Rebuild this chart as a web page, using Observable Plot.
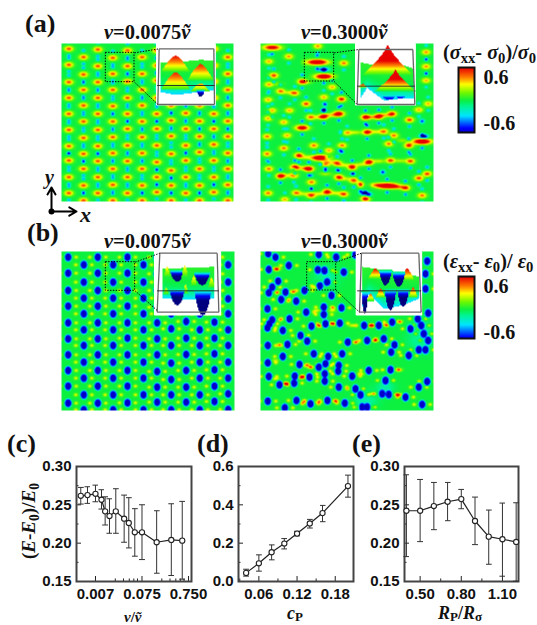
<!DOCTYPE html>
<html><head><meta charset="utf-8">
<script src="https://cdn.jsdelivr.net/npm/d3@7"></script>
<script src="https://cdn.jsdelivr.net/npm/@observablehq/plot@0.6"></script>
<style>
html,body{margin:0;padding:0;background:#fff}
#page{position:relative;width:537px;height:625px;overflow:hidden}
#page svg{position:absolute;overflow:visible;background:transparent}
.lab{position:absolute;white-space:nowrap;font-family:"Liberation Serif",serif;font-weight:bold;color:#111;line-height:1}
.lab sub{font-size:.72em;vertical-align:baseline;position:relative;top:.28em;line-height:0}
.lab sub.low{top:.16em}
</style></head><body><div id="page"></div>
<script>
// ---------- colour scale of the two maps ----------
const colorStops=[-1,-0.72,-0.4,-0.14,0,0.2,0.42,0.6,0.85];
const colorRange=["#00007f","#0000ff","#00e5ff","#00f58c","#0cf040","#70f800","#ffff00","#ff8000","#e80000"];
const barLabels=[-0.6,0.6];

// ---------- panel (c) ----------
const cX=[0.00362,0.00505,0.0075,0.0101,0.0121,0.015,0.0205,0.031,0.039,0.0525,0.075,0.155,0.32,0.55];
const cY=[.2618,.2627,.2644,.2566,.2415,.2354,.2415,.2319,.2263,.2142,.2142,.2012,.2042,.2033];
const cHi=[.2727,.2736,.2757,.2697,.2605,.2579,.2710,.2627,.2593,.2450,.2501,.2423,.2514,.2545];
const cLo=[.2510,.2519,.2540,.2445,.2237,.2129,.2129,.2012,.1938,.1830,.1786,.1608,.1578,.1530];
// ---------- panel (d) ----------
const dX=[.04,.06,.08,.10,.12,.14,.16,.20];
const dY=[.045,.095,.153,.198,.25,.303,.357,.498];
const dHi=[.064,.139,.191,.224,.262,.324,.397,.555];
const dLo=[.028,.054,.113,.17,.238,.279,.312,.44];
// ---------- panel (e) ----------
const eX=[.4,.5,.6,.7,.8,.9,1.0,1.1,1.2];
const eY=[.2423,.2423,.2484,.2540,.2575,.2289,.2085,.2051,.2016];
const eHi=[.2892,.2831,.2792,.2792,.2701,.2601,.2432,.2523,.2527];
const eLo=[.1825,.2020,.2176,.2293,.2449,.1981,.1725,.1569,.1504];

// ---------- map (a) left: spot columns, read in crop coordinates ----------
const a1Cols=[205,249,292,337,381,425,469,512,556,597,640,682];
const a1Rows=[
[145,193,245,292,340,388,437,480,530,578],[170,222,268,315,363,412,460,505,555,600],
[147,197,245,292,340,388,437,482,530,578],[172,220,268,317,363,410,458,505,553,600],
[150,197,243,292,340,385,435,482,530,578],[170,220,268,315,363,410,458,505,555,600],
[150,195,240,292,340,385,435,485,530,575],[170,218,268,315,360,407,460,510,555,600],
[145,195,242,292,338,385,435,480,530,578],[168,218,268,315,362,408,455,505,555,600],
[145,195,243,292,340,385,432,480,530,575],[170,220,268,315,362,408,458,505,553,600]];
// ---------- map (b) left ----------
const b1Cols=[203,250,292,338,381,429,470,512,557,598,642,683];
const b1Rows=[
[140,188,240,287,337,385,433,480,527,578],[163,215,263,310,358,405,455,503,553,598],
[140,188,240,287,337,385,433,480,527,578],[163,215,263,310,358,405,455,503,553,598],
[140,188,240,287,337,383,433,480,527,577],[163,215,263,310,358,405,455,503,553,598],
[140,190,240,290,337,385,433,483,530,575],[165,215,265,310,355,405,458,507,553,598],
[140,190,240,287,333,383,432,480,530,575],[165,215,262,310,358,405,455,503,553,598],
[140,190,240,287,335,383,430,478,527,573],[163,215,265,310,358,405,455,503,550,597]];
// ---------- map (a) right: x, y, strength, width ----------
const a2Spots=[[50,141,1,2],[187,137,.6,1],[100,168,.6,1],[265,188,.65,1],[40,183,.55,1],[512,155,.6,1],[512,198,.6,1],[512,240,.55,1],[185,185,1.25,2.4],[205,228,1.25,2],[140,243,.8,1],[40,252,.55,1],[55,225,.75,1],[75,272,.65,1],[118,278,.65,1],[230,260,.55,1],[38,298,.55,1],[152,310,.75,1],[258,296,.85,1],[205,290,.55,1],[102,330,.55,1],[50,330,.55,1],[205,348,.9,1],[250,340,1.05,1.2],[165,350,.65,1],[38,354,.55,1],[85,365,.55,1],[330,350,.95,1],[370,348,.95,1],[410,340,.85,1],[462,358,.75,1],[518,310,.55,1],[490,328,.55,1],[140,382,1.05,1.5],[35,408,.65,1],[95,405,.55,1],[275,397,.55,1],[335,395,.95,1],[385,393,.65,1],[415,405,.65,1],[400,430,.65,1],[460,435,.85,1],[500,423,1.35,2],[85,443,.65,1],[35,460,.65,1],[175,435,.65,1],[260,435,.65,1],[220,450,.55,1],[130,465,.85,1],[195,472,1.35,2],[40,505,.65,1],[118,500,.95,1],[160,505,1.05,1.1],[75,527,.95,1],[115,525,.65,1],[210,492,.55,1],[245,488,.75,1],[290,500,.95,1],[340,485,1.05,1],[405,480,.75,1],[465,482,.75,1],[250,530,.85,1],[168,545,.65,1],[295,540,.75,1],[315,552,.85,.7],[395,556,1.35,2.4],[450,562,.85,1],[490,533,.75,1],[515,520,.75,1],[38,578,.65,1],[122,577,.65,1],[167,585,.75,1],[215,574,.95,1],[265,581,.75,1],[330,595,.95,1],[88,597,.55,1],[500,585,.65,1]];
const a2Wells=[[205,207,-.9,1.6],[205,330,-1,.8],[505,408,-1.1,1.3],[325,578,-.9,1.2],[340,582,-.8,1],[382,515,-.75,.8],[255,450,-.7,.8],[500,362,-.7,.8],[210,505,-.8,.7],[210,312,-.6,.6],[255,395,-.5,.6]];
const a2Bridges=[[190,350,.36],[228,344,.38],[350,350,.42],[390,344,.4],[300,396,.34],[360,394,.36],[90,525,.3],[140,503,.36],[150,470,.3],[220,485,.34],[265,494,.36],[315,492,.34],[370,482,.34],[435,481,.3],[360,553,.36],[425,560,.36],[145,580,.3],[190,580,.36],[240,578,.36],[100,276,.3],[65,250,.24],[150,245,.3],[270,535,.3],[210,520,.3],[440,420,.24]];
// ---------- map (b) right ----------
const b2Dots=[[38,130],[60,140],[190,132],[242,140],[300,133],[100,165],[40,177],[187,178],[207,180],[265,185],[515,152],[510,190],[68,212],[50,230],[40,247],[193,226],[215,215],[147,240],[90,245],[510,235],[228,255],[77,267],[122,272],[36,295],[152,305],[205,290],[205,312],[258,292],[50,328],[42,340],[36,352],[102,325],[82,360],[168,347],[210,340],[253,338],[326,345],[370,345],[410,335],[465,355],[518,308],[487,325],[497,345],[505,370],[518,390],[135,375],[155,392],[37,405],[96,402],[277,395],[335,390],[385,385],[417,403],[407,425],[490,418],[510,418],[460,435],[82,438],[37,457],[175,430],[260,430],[250,465],[218,438],[210,460],[190,470],[132,462],[208,490],[208,512],[248,482],[340,480],[405,478],[290,497],[40,498],[118,497],[116,518],[162,500],[72,523],[490,530],[515,513],[390,510],[250,530],[300,535],[315,553],[380,550],[400,552],[450,560],[165,580],[37,572],[123,570],[216,570],[268,578],[335,590],[320,590],[88,592],[500,582]];
const b2Ridges=[[60,175,.38],[110,243,.42],[180,230,.42],[185,300,.34],[230,300,.36],[190,345,.42],[230,340,.48],[290,345,.36],[348,345,.65],[390,343,.48],[430,333,.42],[300,395,.38],[360,390,.42],[140,500,.65],[90,520,.65],[150,465,.42],[165,470,.38],[315,490,.42],[430,478,.42],[350,550,.42],[430,553,.7],[145,575,.42],[190,575,.42],[240,572,.42],[75,405,.36],[60,450,.3],[60,505,.36],[65,175,.36]];
const b2Shade=[[215,200,-.18,2.5],[330,570,-.2,2.5],[390,530,-.2,1.8],[490,395,-.16,2.5],[500,350,-.14,2.5]];

// ---------- insets: sheet [x,top,bottom], cones [tipX,tipY,halfWidth,baseY,peak] ----------
const a1Sheet=[[480,185,275],[520,188,282],[560,182,280],[600,178,272],[640,180,270]];
const a1Cones=[[525,165,44,215,.85],[600,190,40,240,.8],[525,215,44,268,.8],[600,248,30,274,.6],[600,288,13,268,-1]];
const a2Sheet=[[315,185,292],[335,190,262],[385,195,300],[430,190,295],[475,205,295]];
const a2Cones=[[397,130,78,225,1.7],[420,205,62,272,1.5],[322,250,14,262,.85],[400,298,22,284,-.75],[435,295,16,284,-.75]];
const b1Sheet=[[485,174,264],[560,172,268],[640,169,264]];
const b1Cones=[[530,214,22,178,-1.1],[605,224,25,184,-1.1],[500,166,10,200,.5],[553,164,10,200,.5],[580,196,10,226,.5],[633,199,10,232,.5],[497,229,8,252,.4],[555,222,8,250,.45],[530,284,24,234,-1.15],[607,314,26,236,-1.2]];
const b2Sheet=[[320,169,290],[340,172,250],[385,178,295],[440,185,285],[490,199,265]];
const b2Cones=[[360,174,22,205,.85],[455,174,22,210,.85],[390,224,20,178,-1.1],[430,229,20,183,-1.1],[375,234,14,262,.8],[473,229,14,262,.8],[345,249,12,272,.7],[405,299,18,234,-1.15],[443,289,18,234,-1.15],[328,309,10,240,-1.15]];

const page=document.getElementById("page");
const jet={type:"linear",domain:colorStops,range:colorRange,clamp:true,unknown:"#fff",interpolate:"rgb"};
function place(el,left,top){el.style.left=left+"px";el.style.top=top+"px";page.appendChild(el);return el;}
function label(html,left,top,size){const d=document.createElement("div");d.className="lab";d.innerHTML=html;d.style.fontSize=size+"px";return place(d,left,top);}
const g=(d,s)=>Math.exp(-(d*d)/(s*s));

function stressField(spots,wells,bridges){
  return (x,y)=>{let v=0;
    for(const [sx,sy,A,w] of spots){const dx=x-sx,dy=y-sy;if(Math.abs(dx)>50||Math.abs(dy)>40)continue;
      v+=A*g(dx,13*w)*g(dy,8)-0.75*Math.min(A,.9)*g(dx,5.5)*(g(dy-20,4.5)+g(dy+20,4.5));}
    for(const [sx,sy,A,w] of wells){const dx=x-sx,dy=y-sy;if(Math.abs(dx)>50||Math.abs(dy)>40)continue;v+=A*g(dx,9*w)*g(dy,6);}
    for(const [sx,sy,A] of bridges){const dx=x-sx,dy=y-sy;if(Math.abs(dx)>50||Math.abs(dy)>40)continue;v+=A*g(dx,18)*g(dy,6);}
    return v;};
}
function strainField(dots,ridges,shade){
  return (x,y)=>{let v=0;
    for(const [sx,sy,A,w] of shade){const dx=x-sx,dy=y-sy;v+=A*g(dx,14*w)*g(dy,12*w);}
    for(const [sx,sy,A] of ridges){const dx=x-sx,dy=y-sy;if(Math.abs(dx)>50||Math.abs(dy)>40)continue;v+=A*g(dx,11)*g(dy,5);}
    let m=0;
    for(const [sx,sy] of dots){const dx=x-sx,dy=y-sy;if(Math.abs(dx)>40||Math.abs(dy)>40)continue;
      const q=Math.exp(-Math.pow((dx*dx)/(11*11)+(dy*dy)/(13.5*13.5),3));m=Math.max(m,q);
      v+=.42*g(dx-24,6)*g(dy,5)+.42*g(dx+24,6)*g(dy,5);}
    return v*(1-m)-0.85*m;};
}
function latticeSpots(cols,rows,A){const out=[];cols.forEach((x,i)=>rows[i].forEach(y=>out.push([x,y,A,1])));return out;}
function latticeDots(cols,rows){const out=[];cols.forEach((x,i)=>rows[i].forEach(y=>out.push([x,y])));return out;}
function insetField(sheet,cones){
  return (x,y)=>{let v=NaN;
    if(x>=sheet[0][0]&&x<=sheet[sheet.length-1][0]){
      let i=0;while(i<sheet.length-2&&x>sheet[i+1][0])i++;
      const a=sheet[i],b=sheet[i+1],k=(x-a[0])/(b[0]-a[0]);
      const t=a[1]+(b[1]-a[1])*k,bo=a[2]+(b[2]-a[2])*k;
      if(y>=t&&y<=bo){const u=(y-t)/(bo-t);v=.06-.1*u-.4*u*u*u*u;}
    }
    for(const [tx,ty,hw,by,pk] of cones){const t=(y-ty)/(by-ty);if(!(t>=0&&t<=1))continue;
      const d=Math.abs(x-tx)/hw;
      if(pk<0){ if(d<=Math.pow(t,.45))v=pk*(1-t*t*t); }
      else if(pk>1){ if(d<=Math.pow(t,1.35))v=pk*Math.pow(1-t,.9); }
      else { if(d<=Math.pow(t,.7))v=pk*Math.pow(1-t,.75); }
    }
    return v;};
}

function mapPlot(o){
  const [cx1,cx2]=o.cx,[cy1,cy2]=o.cy;
  const wire=o.wire.map(([x1,y1,x2,y2])=>({x1,y1,x2,y2}));
  const plot=Plot.plot({width:o.w,height:o.h,margin:0,style:{background:"transparent",overflow:"visible"},
    x:{domain:[cx1,cx2],axis:null},y:{domain:[cy1,cy2],reverse:true,axis:null},color:jet,
    marks:[
      Plot.raster({fill:o.field,x1:cx1,x2:cx2,y1:cy1,y2:cy2,pixelSize:1,imageFilter:"blur(0.5px)"}),
      Plot.rect([o.white],{x1:d=>d[0],y1:d=>d[1],x2:d=>d[2],y2:d=>d[3],fill:"#fff"}),
      Plot.raster({fill:o.inset,x1:o.white[0],x2:o.white[2],y1:o.white[1],y2:o.white[3],pixelSize:1,imageFilter:"blur(0.5px)"}),
      Plot.link(wire,{x1:"x1",y1:"y1",x2:"x2",y2:"y2",stroke:"#666",strokeWidth:1.3,curve:"linear"}),
      Plot.link([o.mid],{x1:d=>d[0],y1:d=>d[1],x2:d=>d[2],y2:d=>d[3],stroke:"#222",strokeWidth:.9}),
      Plot.rect([o.square],{x1:d=>d[0],y1:d=>d[1],x2:d=>d[2],y2:d=>d[3],stroke:"#000",strokeWidth:1,strokeDasharray:"1.4,1.4",fill:"none"}),
      Plot.link(o.connect,{x1:d=>d[0],y1:d=>d[1],x2:d=>d[2],y2:d=>d[3],stroke:"#000",strokeWidth:1,strokeDasharray:"1.4,1.4"})
    ]});
  return place(plot,o.left,o.top);
}
const boxWire=(lt,rt,lb,rb)=>[[...lt,...rt],[...lt,...lb],[...rt,...rb],[...lb,...rb]];

mapPlot({left:61,top:43,w:172,h:158,cx:[183,699],cy:[129,603],field:stressField(latticeSpots(a1Cols,a1Rows,.72),[],[]),
  white:[468,129,646,315],inset:insetField(a1Sheet,a1Cones),wire:boxWire([476,145],[640,145],[472,312],[642,312]),mid:[470,255,642,255],
  square:[316,157,402,245],connect:[[402,157,476,145],[402,245,472,312]]});
mapPlot({left:260,top:43,w:173,h:158,cx:[15,534],cy:[129,603],field:stressField(a2Spots,a2Wells,a2Bridges),
  white:[300,129,481,315],inset:insetField(a2Sheet,a2Cones),wire:boxWire([310,147],[472,147],[305,312],[478,312]),mid:[305,257,478,257],
  square:[148,157,236,243],connect:[[236,157,310,147],[236,243,305,312]]});
mapPlot({left:61,top:251,w:173,h:159,cx:[183,702],cy:[123,600],field:strainField(latticeDots(b1Cols,b1Rows),[],[]),
  white:[462,123,662,315],inset:insetField(b1Sheet,b1Cones),wire:boxWire([478,128],[650,128],[470,305],[655,305]),mid:[470,241,655,241],
  square:[316,155,404,241],connect:[[404,155,478,128],[404,241,470,300]]});
mapPlot({left:260,top:251,w:173,h:159,cx:[15,534],cy:[123,600],field:strainField(b2Dots,b2Ridges,b2Shade),
  white:[302,123,500,315],inset:insetField(b2Sheet,b2Cones),wire:boxWire([318,128],[490,128],[312,305],[497,305]),mid:[305,241,497,241],
  square:[155,155,242,240],connect:[[242,155,318,128],[242,240,312,305]]});

// colour bars
function colorBar(left,top,h,lo,hi){
  const p=Plot.plot({width:60,height:h,marginLeft:0,marginRight:44,marginTop:0,marginBottom:0,style:{background:"transparent",overflow:"visible"},
    x:{domain:[0,1],axis:null},y:{domain:[lo,hi]},color:jet,
    marks:[Plot.raster({fill:(x,y)=>y,x1:0,x2:1,y1:lo,y2:hi,pixelSize:1}),
      Plot.frame({stroke:"#111",strokeWidth:2}),
      Plot.axisY({anchor:"right",ticks:barLabels,tickSize:0,tickPadding:9,tickFormat:d=>d3.format(".1f")(d).replace("−","-"),label:null,
        fontSize:20,fontWeight:"bold",fontFamily:"Liberation Serif",fill:"#111"})]});
  return place(p,left,top);
}
colorBar(458,67,65,-.835,.86);colorBar(458,276,62,-.757,.86);

// axis arrows
const arrowSegs=[[51,211,51,187],[51,211,76,211]];
place(Plot.plot({width:50,height:40,margin:0,style:{background:"transparent",overflow:"visible"},
  x:{domain:[40,90],axis:null},y:{domain:[180,220],reverse:true,axis:null},
  marks:[Plot.arrow(arrowSegs,{x1:d=>d[0],y1:d=>d[1],x2:d=>d[2],y2:d=>d[3],stroke:"#000",strokeWidth:2,headLength:9,bend:0}),
    Plot.dot([arrowSegs[0]],{x:d=>d[0],y:d=>d[1],r:3,fill:"#000"})]}),40,180);

// line charts
function linePanel(o){
  const data=o.xs.map((x,i)=>({x,y:o.ys[i],hi:o.hi[i],lo:o.lo[i]}));
  const xName=new Map(o.xTicks.map((t,i)=>[t,o.xLabels[i]]));
  const yName=new Map(o.yTicks.map((t,i)=>[t,o.yLabels[i]]));
  const p=Plot.plot({width:o.w+44+30,height:o.h+8+30,marginLeft:44,marginRight:30,marginTop:8,marginBottom:30,
    style:{background:"transparent",overflow:"visible"},
    x:{domain:o.xd,type:o.xt||"linear",axis:null},y:{domain:o.yd},
    marks:[
      Plot.axisX({anchor:"bottom",ticks:o.xMinor,tickSize:-2.5,tickPadding:0,tickFormat:null,text:null,label:null,stroke:"#222"}),
      Plot.axisY({anchor:"left",ticks:o.yMinor,tickSize:-2.5,tickPadding:0,tickFormat:()=>"",label:null,stroke:"#222"}),
      Plot.axisX({anchor:"bottom",ticks:o.xTicks,tickSize:-5,tickPadding:0,tickFormat:null,text:null,label:null,stroke:"#222"}),
      Plot.text(o.xTicks,{x:d=>d,text:d=>xName.get(d),frameAnchor:"bottom",lineAnchor:"top",dy:7,fontSize:15,fontWeight:"bold",fontFamily:"Liberation Sans",fill:"#111"}),
      Plot.axisY({anchor:"left",ticks:o.yTicks,tickSize:-5,tickPadding:10,tickFormat:d=>yName.get(d),label:null,fontSize:15,fontWeight:"bold",fontFamily:"Liberation Sans",fill:"#111",stroke:"#222"}),
      Plot.frame({stroke:"#444",strokeWidth:2}),
      Plot.link(data,{x1:"x",x2:"x",y1:"lo",y2:"hi",stroke:"#333",strokeWidth:1,marker:"tick"}),
      Plot.line(data,{x:"x",y:"y",stroke:"#222",strokeWidth:1.2}),
      Plot.dot(data,{x:"x",y:"y",r:2.6,fill:"#fff",stroke:"#222",strokeWidth:1.1})
    ]});
  return place(p,o.left,o.top);
}
const h30=[.15,.2,.25,.3],h30L=["0.15","0.20","0.25","0.30"],minor30=[.175,.225,.275];
linePanel({left:32,top:458,w:115,h:115,xs:cX,ys:cY,hi:cHi,lo:cLo,xt:"log",xd:[0.00293,0.87],yd:[.15,.3],
  xTicks:[0.0075,0.075,0.75],xLabels:["0.007","0.075","0.750"],xMinor:[.02,.03,.04,.05,.06,.2,.3,.4,.5,.6],yTicks:h30,yLabels:h30L,yMinor:minor30});
linePanel({left:194,top:458,w:115,h:115,xs:dX,ys:dY,hi:dHi,lo:dLo,xd:[.028,.2087],yd:[0,.6],
  xTicks:[.06,.12,.18],xLabels:["0.06","0.12","0.18"],xMinor:[.03,.09,.15],yTicks:[0,.2,.4,.6],yLabels:["0.0","0.2","0.4","0.6"],yMinor:[.1,.3,.5]});
linePanel({left:360,top:458,w:114,h:115,xs:eX,ys:eY,hi:eHi,lo:eLo,xd:[.386,1.217],yd:[.15,.3],
  xTicks:[.5,.8,1.1],xLabels:["0.50","0.80","1.10"],xMinor:[.65,.95],yTicks:h30,yLabels:h30L,yMinor:minor30});

// text
const vt='<i>v</i>=';
label("(a)",25,11,26);label("(b)",27,220,26);label("(c)",7,431,26);label("(d)",197,431,26);label("(e)",352,431,26);
label(vt+"0.0075<i>ṽ</i>",104,22,20.5);label(vt+"0.3000<i>ṽ</i>",301,22,20.5);
label(vt+"0.0075<i>ṽ</i>",104,231,20.5);label(vt+"0.3000<i>ṽ</i>",301,231,20.5);
label('(<i>σ</i><sub>xx</sub>- <i>σ</i><sub>0</sub>)/<i>σ</i><sub>0</sub>',443,42,20.3);
label('(<i>ε</i><sub>xx</sub>- <i>ε</i><sub>0</sub>)/ <i>ε</i><sub>0</sub>',443,251,20.3);
label('<i>y</i>',45,167,20);label('<i>x</i>',80,204,22);
label('<i>v</i>/<i>ṽ</i>',124,610,15);label('<i>c</i><sub class="low">P</sub>',287,604,18);label('<i>R</i><sub class="low">P</sub>/<i>R</i><sub class="low">σ</sub>',438,604,18);
const yl=label('(<i>E</i>-<i>E</i><sub>0</sub>)/<i>E</i><sub>0</sub>',0,512,19);
yl.style.left="-12px";yl.style.width="80px";yl.style.textAlign="center";yl.style.transform="rotate(-90deg)";yl.style.transformOrigin="40px 9px";
</script></body></html>
